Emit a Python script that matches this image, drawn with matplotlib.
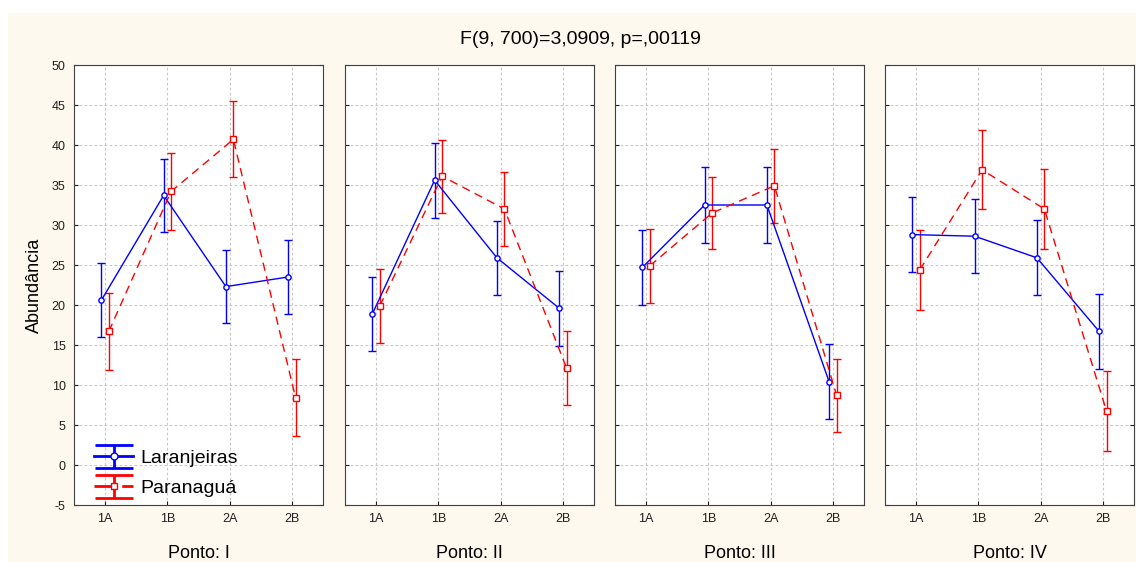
import numpy as np
import matplotlib
matplotlib.use("Agg")
from matplotlib import pyplot as plt
from matplotlib.patches import Rectangle
from matplotlib.legend_handler import HandlerErrorbar

plt.rcParams["font.family"] = ["Liberation Sans", "DejaVu Sans"]
plt.rcParams["axes.unicode_minus"] = False

categorias = ["1A", "1B", "2A", "2B"]
pontos = ["I", "II", "III", "IV"]

# medias e meia-largura do intervalo
lar_media = [
    [20.6, 33.7, 22.3, 23.5],
    [18.9, 35.6, 25.9, 19.6],
    [24.7, 32.5, 32.5, 10.4],
    [28.8, 28.6, 25.9, 16.7],
]
lar_erro = [
    [4.6, 4.6, 4.6, 4.6],
    [4.6, 4.7, 4.65, 4.7],
    [4.7, 4.7, 4.7, 4.7],
    [4.7, 4.65, 4.7, 4.7],
]
par_media = [
    [16.7, 34.2, 40.7, 8.4],
    [19.9, 36.1, 32.0, 12.1],
    [24.9, 31.5, 34.9, 8.7],
    [24.4, 36.9, 32.0, 6.7],
]
par_erro = [
    [4.8, 4.8, 4.75, 4.8],
    [4.6, 4.55, 4.6, 4.6],
    [4.6, 4.55, 4.6, 4.6],
    [5.0, 4.95, 5.0, 5.0],
]

titulo = "F(9, 700)=3,0909, p=,00119"

W, H = 1136, 562
fig = plt.figure(figsize=(W / 100, H / 100), dpi=100)
fig.patch.set_facecolor("white")
fig.patches.append(Rectangle((8 / W, 0), 1 - 8 / W, 1 - 13 / H, transform=fig.transFigure,
                             facecolor="#fdf9ee", edgecolor="none", zorder=-10))

azul = "#0000ff"
verm = "#ff0000"
tracejado = (0, (6, 4))

lefts = [74, 345, 615, 885]
x = np.arange(len(categorias))
for i, p in enumerate(pontos):
    ax = fig.add_axes([lefts[i] / W, 1 - 505 / H, 249 / W, 440 / H])
    ax.set_facecolor("white")
    ax.errorbar(x - 0.06, lar_media[i], yerr=lar_erro[i], color=azul, lw=1,
                marker="o", ms=3.8, mfc="white", mec=azul, capsize=3, elinewidth=1)
    ax.errorbar(x + 0.06, par_media[i], yerr=par_erro[i], color=verm, lw=1, ls=tracejado,
                marker="s", ms=3.8, mfc="white", mec=verm, capsize=3, elinewidth=1)
    ax.set_xlim(-0.5, 3.5)
    ax.set_ylim(-5, 50)
    ax.set_yticks(np.arange(-5, 51, 5))
    ax.set_xticks(x)
    ax.set_xticklabels(categorias, fontsize=9)
    ax.grid(True, color="#c8c8c8", ls=(0, (2.5, 2)), lw=0.8)
    ax.set_axisbelow(True)
    ax.tick_params(direction="in", length=3, right=True, left=True, labelsize=9,
                   colors="#202020", pad=6)
    if i > 0:
        ax.set_yticklabels([])
    else:
        ax.set_ylabel("Abundância", fontsize=13, labelpad=6)
    for s in ax.spines.values():
        s.set_color("#404040")
    ax.set_xlabel("Ponto: " + p, fontsize=13, labelpad=14)
    if i == 0:
        # alcas so para a legenda (sem dados)
        h1 = ax.errorbar([np.nan], [np.nan], yerr=[np.nan], color=azul, lw=2, marker="o", ms=5,
                         mfc="white", mec=azul, capsize=14, capthick=2, elinewidth=2)
        h2 = ax.errorbar([np.nan], [np.nan], yerr=[np.nan], color=verm, lw=2, ls=tracejado,
                         marker="s", ms=5, mfc="white", mec=verm, capsize=14, capthick=2,
                         elinewidth=2)
        ax.legend([h1, h2], ["Laranjeiras", "Paranaguá"], loc="lower left", frameon=False,
                  fontsize=14, handlelength=2.0, labelspacing=0.65, handletextpad=0.35,
                  borderaxespad=0.0, bbox_to_anchor=(0.05, 0.0),
                  handler_map={type(h1): HandlerErrorbar(yerr_size=0.6)})

fig.text(580 / W, 1 - 40 / H, titulo, ha="center", va="center", fontsize=14)
fig.savefig("out.png", dpi=100, facecolor=fig.get_facecolor())
